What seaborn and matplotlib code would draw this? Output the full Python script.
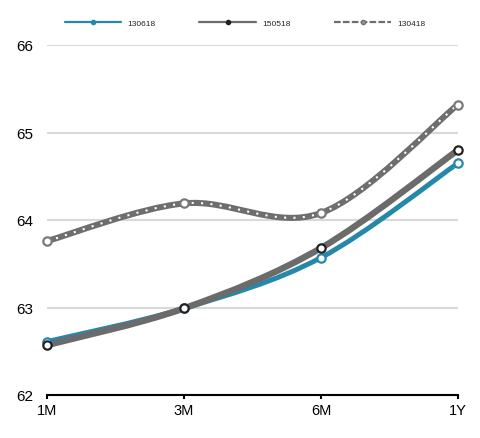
import numpy as np
import pandas as pd
import seaborn as sns
import matplotlib.pyplot as plt
from matplotlib.path import Path
from matplotlib.patches import PathPatch
from matplotlib.lines import Line2D

tenors = ["1M", "3M", "6M", "1Y"]
s130618 = [62.61, 62.99, 63.57, 64.65]
s150518 = [62.57, 62.99, 63.68, 64.80]
s130418 = [63.76, 64.19, 64.08, 65.32]
names = ["130618", "150518", "130418"]


def spline_path(ys, k=1/6):
    # smooth curve through the points as cubic bezier segments (catmull-rom style)
    pts = np.column_stack([np.arange(len(ys)), ys]).astype(float)
    n = len(pts)
    verts = [pts[0]]
    codes = [Path.MOVETO]
    for i in range(n - 1):
        p0 = pts[max(i - 1, 0)]
        p1 = pts[i]
        p2 = pts[i + 1]
        p3 = pts[min(i + 2, n - 1)]
        verts += [p1 + (p2 - p0) * k, p2 - (p3 - p1) * k, p2]
        codes += [Path.CURVE4] * 3
    return Path(verts, codes)


sns.set_style("white")
plt.rcParams['font.family'] = ['Liberation Sans', 'DejaVu Sans']

blue = "#2688a8"
gray = "#6b6b6b"
dgray = "#6e6e6e"

fig = plt.figure(figsize=(4.81, 4.39), dpi=100)
ax = fig.add_axes([47 / 481, 43 / 439, 411 / 481, 350 / 439])

for v in [62, 63, 64, 65, 66]:
    ax.axhline(v, color="#d9d9d9", lw=1.5, zorder=0)

series = [(s130618, blue, 3.6, blue), (s150518, gray, 4.6, "#222222"), (s130418, dgray, 4.4, "#7a7a7a")]
for i, (vals, col, lw, edge) in enumerate(series):
    df = pd.DataFrame({"tenor": tenors, "value": vals})
    ax.add_patch(PathPatch(spline_path(vals), fill=False, edgecolor=col, lw=lw,
                           capstyle="round", joinstyle="round", zorder=2 + i))
    if i == 2:
        ax.add_patch(PathPatch(spline_path(vals), fill=False, edgecolor="white", lw=1.5,
                               linestyle=(0, (1, 3.5)), capstyle="butt", zorder=2 + i))
    sns.scatterplot(data=df, x="tenor", y="value", ax=ax, color="white", edgecolor=edge,
                    linewidth=1.6, s=36, zorder=5 + i, clip_on=False)

ax.set_xlim(0, 3)
ax.set_ylim(62, 66)
ax.set_yticks([62, 63, 64, 65, 66])
ax.set_xlabel("")
ax.set_ylabel("")
for s in ["top", "right", "left"]:
    ax.spines[s].set_visible(False)
ax.spines["bottom"].set_color("black")
ax.spines["bottom"].set_linewidth(1.5)
ax.spines["bottom"].set_zorder(1)
ax.tick_params(axis="x", bottom=True, direction="out", length=3, width=1.5, color="black",
               labelcolor="black", labelsize=10.5, pad=3)
ax.tick_params(axis="y", left=False, length=0, labelcolor="black", labelsize=11, pad=10)

handles = [
    Line2D([], [], color=blue, lw=1.6, marker="o", ms=3, mfc=blue, mec=blue),
    Line2D([], [], color=gray, lw=1.6, marker="o", ms=3, mfc="#222222", mec="#222222"),
    Line2D([], [], color=dgray, lw=1.6, ls=(0, (3, 1)), marker="o", ms=3, mfc="#9a9a9a", mec=dgray),
]
fig.legend(handles, names, loc="center", bbox_to_anchor=(0.509, 1 - 24 / 439), ncol=3,
           frameon=False, fontsize=6, handlelength=6.8, columnspacing=5.3, handletextpad=0.7)

fig.savefig("out.png", dpi=100)
